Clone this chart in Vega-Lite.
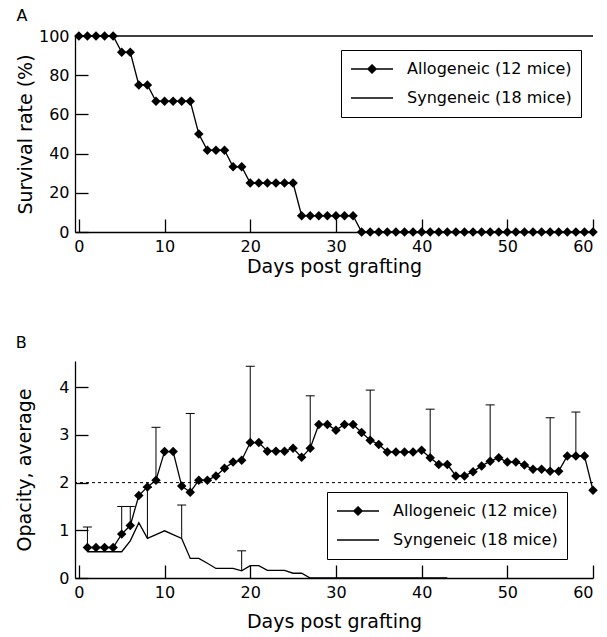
{
  "$schema": "https://vega.github.io/schema/vega-lite/v6.json",
  "padding": {"left": 15, "top": 8, "right": 5, "bottom": 5},
  "spacing": 59,
  "config": {
    "font": "DejaVu Sans",
    "view": {"stroke": null},
    "axis": {"domainColor": "black", "tickColor": "black", "labelColor": "black", "titleColor": "black", "labelFontSize": 16, "titleFontSize": 19, "titleFontWeight": "normal", "tickSize": -13, "labelPadding": 19, "grid": false, "domainWidth": 1.3, "tickWidth": 1.3, "labelFont": "DejaVu Sans", "titleFont": "DejaVu Sans"},
    "legend": {"labelLimit": 400},
    "title": {"fontSize": 16, "fontWeight": "normal", "anchor": "start", "font": "DejaVu Sans", "color": "black", "offset": 4}
  },
  "datasets": {
    "survival": [
      {"day": 0, "value": 100, "group": "Allogeneic (12 mice)"},
      {"day": 1, "value": 100, "group": "Allogeneic (12 mice)"},
      {"day": 2, "value": 100, "group": "Allogeneic (12 mice)"},
      {"day": 3, "value": 100, "group": "Allogeneic (12 mice)"},
      {"day": 4, "value": 100, "group": "Allogeneic (12 mice)"},
      {"day": 5, "value": 91.7, "group": "Allogeneic (12 mice)"},
      {"day": 6, "value": 91.7, "group": "Allogeneic (12 mice)"},
      {"day": 7, "value": 75, "group": "Allogeneic (12 mice)"},
      {"day": 8, "value": 75, "group": "Allogeneic (12 mice)"},
      {"day": 9, "value": 66.7, "group": "Allogeneic (12 mice)"},
      {"day": 10, "value": 66.7, "group": "Allogeneic (12 mice)"},
      {"day": 11, "value": 66.7, "group": "Allogeneic (12 mice)"},
      {"day": 12, "value": 66.7, "group": "Allogeneic (12 mice)"},
      {"day": 13, "value": 66.7, "group": "Allogeneic (12 mice)"},
      {"day": 14, "value": 50, "group": "Allogeneic (12 mice)"},
      {"day": 15, "value": 41.7, "group": "Allogeneic (12 mice)"},
      {"day": 16, "value": 41.7, "group": "Allogeneic (12 mice)"},
      {"day": 17, "value": 41.7, "group": "Allogeneic (12 mice)"},
      {"day": 18, "value": 33.3, "group": "Allogeneic (12 mice)"},
      {"day": 19, "value": 33.3, "group": "Allogeneic (12 mice)"},
      {"day": 20, "value": 25, "group": "Allogeneic (12 mice)"},
      {"day": 21, "value": 25, "group": "Allogeneic (12 mice)"},
      {"day": 22, "value": 25, "group": "Allogeneic (12 mice)"},
      {"day": 23, "value": 25, "group": "Allogeneic (12 mice)"},
      {"day": 24, "value": 25, "group": "Allogeneic (12 mice)"},
      {"day": 25, "value": 25, "group": "Allogeneic (12 mice)"},
      {"day": 26, "value": 8.3, "group": "Allogeneic (12 mice)"},
      {"day": 27, "value": 8.3, "group": "Allogeneic (12 mice)"},
      {"day": 28, "value": 8.3, "group": "Allogeneic (12 mice)"},
      {"day": 29, "value": 8.3, "group": "Allogeneic (12 mice)"},
      {"day": 30, "value": 8.3, "group": "Allogeneic (12 mice)"},
      {"day": 31, "value": 8.3, "group": "Allogeneic (12 mice)"},
      {"day": 32, "value": 8.3, "group": "Allogeneic (12 mice)"},
      {"day": 33, "value": 0, "group": "Allogeneic (12 mice)"},
      {"day": 34, "value": 0, "group": "Allogeneic (12 mice)"},
      {"day": 35, "value": 0, "group": "Allogeneic (12 mice)"},
      {"day": 36, "value": 0, "group": "Allogeneic (12 mice)"},
      {"day": 37, "value": 0, "group": "Allogeneic (12 mice)"},
      {"day": 38, "value": 0, "group": "Allogeneic (12 mice)"},
      {"day": 39, "value": 0, "group": "Allogeneic (12 mice)"},
      {"day": 40, "value": 0, "group": "Allogeneic (12 mice)"},
      {"day": 41, "value": 0, "group": "Allogeneic (12 mice)"},
      {"day": 42, "value": 0, "group": "Allogeneic (12 mice)"},
      {"day": 43, "value": 0, "group": "Allogeneic (12 mice)"},
      {"day": 44, "value": 0, "group": "Allogeneic (12 mice)"},
      {"day": 45, "value": 0, "group": "Allogeneic (12 mice)"},
      {"day": 46, "value": 0, "group": "Allogeneic (12 mice)"},
      {"day": 47, "value": 0, "group": "Allogeneic (12 mice)"},
      {"day": 48, "value": 0, "group": "Allogeneic (12 mice)"},
      {"day": 49, "value": 0, "group": "Allogeneic (12 mice)"},
      {"day": 50, "value": 0, "group": "Allogeneic (12 mice)"},
      {"day": 51, "value": 0, "group": "Allogeneic (12 mice)"},
      {"day": 52, "value": 0, "group": "Allogeneic (12 mice)"},
      {"day": 53, "value": 0, "group": "Allogeneic (12 mice)"},
      {"day": 54, "value": 0, "group": "Allogeneic (12 mice)"},
      {"day": 55, "value": 0, "group": "Allogeneic (12 mice)"},
      {"day": 56, "value": 0, "group": "Allogeneic (12 mice)"},
      {"day": 57, "value": 0, "group": "Allogeneic (12 mice)"},
      {"day": 58, "value": 0, "group": "Allogeneic (12 mice)"},
      {"day": 59, "value": 0, "group": "Allogeneic (12 mice)"},
      {"day": 60, "value": 0, "group": "Allogeneic (12 mice)"},
      {"day": 0, "value": 100, "group": "Syngeneic (18 mice)"},
      {"day": 60, "value": 100, "group": "Syngeneic (18 mice)"}
    ],
    "opacity": [
      {"day": 1, "value": 0.64, "group": "Allogeneic (12 mice)"},
      {"day": 2, "value": 0.64, "group": "Allogeneic (12 mice)"},
      {"day": 3, "value": 0.64, "group": "Allogeneic (12 mice)"},
      {"day": 4, "value": 0.64, "group": "Allogeneic (12 mice)"},
      {"day": 5, "value": 0.92, "group": "Allogeneic (12 mice)"},
      {"day": 6, "value": 1.10, "group": "Allogeneic (12 mice)"},
      {"day": 7, "value": 1.73, "group": "Allogeneic (12 mice)"},
      {"day": 8, "value": 1.91, "group": "Allogeneic (12 mice)"},
      {"day": 9, "value": 2.05, "group": "Allogeneic (12 mice)"},
      {"day": 10, "value": 2.65, "group": "Allogeneic (12 mice)"},
      {"day": 11, "value": 2.65, "group": "Allogeneic (12 mice)"},
      {"day": 12, "value": 1.93, "group": "Allogeneic (12 mice)"},
      {"day": 13, "value": 1.80, "group": "Allogeneic (12 mice)"},
      {"day": 14, "value": 2.05, "group": "Allogeneic (12 mice)"},
      {"day": 15, "value": 2.05, "group": "Allogeneic (12 mice)"},
      {"day": 16, "value": 2.14, "group": "Allogeneic (12 mice)"},
      {"day": 17, "value": 2.30, "group": "Allogeneic (12 mice)"},
      {"day": 18, "value": 2.43, "group": "Allogeneic (12 mice)"},
      {"day": 19, "value": 2.47, "group": "Allogeneic (12 mice)"},
      {"day": 20, "value": 2.84, "group": "Allogeneic (12 mice)"},
      {"day": 21, "value": 2.84, "group": "Allogeneic (12 mice)"},
      {"day": 22, "value": 2.66, "group": "Allogeneic (12 mice)"},
      {"day": 23, "value": 2.66, "group": "Allogeneic (12 mice)"},
      {"day": 24, "value": 2.66, "group": "Allogeneic (12 mice)"},
      {"day": 25, "value": 2.72, "group": "Allogeneic (12 mice)"},
      {"day": 26, "value": 2.53, "group": "Allogeneic (12 mice)"},
      {"day": 27, "value": 2.72, "group": "Allogeneic (12 mice)"},
      {"day": 28, "value": 3.22, "group": "Allogeneic (12 mice)"},
      {"day": 29, "value": 3.22, "group": "Allogeneic (12 mice)"},
      {"day": 30, "value": 3.10, "group": "Allogeneic (12 mice)"},
      {"day": 31, "value": 3.22, "group": "Allogeneic (12 mice)"},
      {"day": 32, "value": 3.22, "group": "Allogeneic (12 mice)"},
      {"day": 33, "value": 3.05, "group": "Allogeneic (12 mice)"},
      {"day": 34, "value": 2.89, "group": "Allogeneic (12 mice)"},
      {"day": 35, "value": 2.80, "group": "Allogeneic (12 mice)"},
      {"day": 36, "value": 2.64, "group": "Allogeneic (12 mice)"},
      {"day": 37, "value": 2.64, "group": "Allogeneic (12 mice)"},
      {"day": 38, "value": 2.64, "group": "Allogeneic (12 mice)"},
      {"day": 39, "value": 2.64, "group": "Allogeneic (12 mice)"},
      {"day": 40, "value": 2.68, "group": "Allogeneic (12 mice)"},
      {"day": 41, "value": 2.52, "group": "Allogeneic (12 mice)"},
      {"day": 42, "value": 2.38, "group": "Allogeneic (12 mice)"},
      {"day": 43, "value": 2.38, "group": "Allogeneic (12 mice)"},
      {"day": 44, "value": 2.14, "group": "Allogeneic (12 mice)"},
      {"day": 45, "value": 2.14, "group": "Allogeneic (12 mice)"},
      {"day": 46, "value": 2.23, "group": "Allogeneic (12 mice)"},
      {"day": 47, "value": 2.35, "group": "Allogeneic (12 mice)"},
      {"day": 48, "value": 2.45, "group": "Allogeneic (12 mice)"},
      {"day": 49, "value": 2.52, "group": "Allogeneic (12 mice)"},
      {"day": 50, "value": 2.43, "group": "Allogeneic (12 mice)"},
      {"day": 51, "value": 2.43, "group": "Allogeneic (12 mice)"},
      {"day": 52, "value": 2.37, "group": "Allogeneic (12 mice)"},
      {"day": 53, "value": 2.28, "group": "Allogeneic (12 mice)"},
      {"day": 54, "value": 2.28, "group": "Allogeneic (12 mice)"},
      {"day": 55, "value": 2.24, "group": "Allogeneic (12 mice)"},
      {"day": 56, "value": 2.24, "group": "Allogeneic (12 mice)"},
      {"day": 57, "value": 2.56, "group": "Allogeneic (12 mice)"},
      {"day": 58, "value": 2.56, "group": "Allogeneic (12 mice)"},
      {"day": 59, "value": 2.56, "group": "Allogeneic (12 mice)"},
      {"day": 60, "value": 1.84, "group": "Allogeneic (12 mice)"},
      {"day": 1, "value": 0.55, "group": "Syngeneic (18 mice)"},
      {"day": 2, "value": 0.55, "group": "Syngeneic (18 mice)"},
      {"day": 3, "value": 0.55, "group": "Syngeneic (18 mice)"},
      {"day": 4, "value": 0.55, "group": "Syngeneic (18 mice)"},
      {"day": 5, "value": 0.55, "group": "Syngeneic (18 mice)"},
      {"day": 6, "value": 0.78, "group": "Syngeneic (18 mice)"},
      {"day": 7, "value": 1.16, "group": "Syngeneic (18 mice)"},
      {"day": 8, "value": 0.83, "group": "Syngeneic (18 mice)"},
      {"day": 9, "value": 0.91, "group": "Syngeneic (18 mice)"},
      {"day": 10, "value": 0.99, "group": "Syngeneic (18 mice)"},
      {"day": 11, "value": 0.91, "group": "Syngeneic (18 mice)"},
      {"day": 12, "value": 0.83, "group": "Syngeneic (18 mice)"},
      {"day": 13, "value": 0.41, "group": "Syngeneic (18 mice)"},
      {"day": 14, "value": 0.41, "group": "Syngeneic (18 mice)"},
      {"day": 15, "value": 0.31, "group": "Syngeneic (18 mice)"},
      {"day": 16, "value": 0.2, "group": "Syngeneic (18 mice)"},
      {"day": 17, "value": 0.2, "group": "Syngeneic (18 mice)"},
      {"day": 18, "value": 0.2, "group": "Syngeneic (18 mice)"},
      {"day": 19, "value": 0.15, "group": "Syngeneic (18 mice)"},
      {"day": 20, "value": 0.26, "group": "Syngeneic (18 mice)"},
      {"day": 21, "value": 0.26, "group": "Syngeneic (18 mice)"},
      {"day": 22, "value": 0.16, "group": "Syngeneic (18 mice)"},
      {"day": 23, "value": 0.16, "group": "Syngeneic (18 mice)"},
      {"day": 24, "value": 0.16, "group": "Syngeneic (18 mice)"},
      {"day": 25, "value": 0.1, "group": "Syngeneic (18 mice)"},
      {"day": 26, "value": 0.1, "group": "Syngeneic (18 mice)"},
      {"day": 27, "value": 0, "group": "Syngeneic (18 mice)"},
      {"day": 28, "value": 0, "group": "Syngeneic (18 mice)"},
      {"day": 29, "value": 0, "group": "Syngeneic (18 mice)"},
      {"day": 30, "value": 0, "group": "Syngeneic (18 mice)"},
      {"day": 31, "value": 0, "group": "Syngeneic (18 mice)"},
      {"day": 32, "value": 0, "group": "Syngeneic (18 mice)"},
      {"day": 33, "value": 0, "group": "Syngeneic (18 mice)"},
      {"day": 34, "value": 0, "group": "Syngeneic (18 mice)"},
      {"day": 35, "value": 0, "group": "Syngeneic (18 mice)"},
      {"day": 36, "value": 0, "group": "Syngeneic (18 mice)"},
      {"day": 37, "value": 0, "group": "Syngeneic (18 mice)"},
      {"day": 38, "value": 0, "group": "Syngeneic (18 mice)"},
      {"day": 39, "value": 0, "group": "Syngeneic (18 mice)"},
      {"day": 40, "value": 0, "group": "Syngeneic (18 mice)"},
      {"day": 41, "value": 0, "group": "Syngeneic (18 mice)"},
      {"day": 42, "value": 0, "group": "Syngeneic (18 mice)"},
      {"day": 43, "value": 0, "group": "Syngeneic (18 mice)"}
    ],
    "errors": [
      {"day": 1, "value": 0.64, "upper": 1.07, "group": "Allogeneic (12 mice)"},
      {"day": 5, "value": 0.92, "upper": 1.5, "group": "Allogeneic (12 mice)"},
      {"day": 6, "value": 1.10, "upper": 1.5, "group": "Allogeneic (12 mice)"},
      {"day": 9, "value": 2.05, "upper": 3.16, "group": "Allogeneic (12 mice)"},
      {"day": 13, "value": 1.80, "upper": 3.45, "group": "Allogeneic (12 mice)"},
      {"day": 20, "value": 2.84, "upper": 4.44, "group": "Allogeneic (12 mice)"},
      {"day": 27, "value": 2.72, "upper": 3.82, "group": "Allogeneic (12 mice)"},
      {"day": 34, "value": 2.89, "upper": 3.94, "group": "Allogeneic (12 mice)"},
      {"day": 41, "value": 2.52, "upper": 3.54, "group": "Allogeneic (12 mice)"},
      {"day": 48, "value": 2.45, "upper": 3.63, "group": "Allogeneic (12 mice)"},
      {"day": 55, "value": 2.24, "upper": 3.36, "group": "Allogeneic (12 mice)"},
      {"day": 58, "value": 2.56, "upper": 3.48, "group": "Allogeneic (12 mice)"},
      {"day": 8, "value": 0.83, "upper": 1.9, "group": "Syngeneic (18 mice)"},
      {"day": 12, "value": 0.83, "upper": 1.53, "group": "Syngeneic (18 mice)"},
      {"day": 19, "value": 0.15, "upper": 0.57, "group": "Syngeneic (18 mice)"}
    ],
    "reference": [
      {"level": 2}
    ]
  },
  "resolve": {"scale": {"color": "independent"}},
  "vconcat": [
    {
      "title": "A",
      "width": 518,
      "height": 196,
      "data": {"name": "survival"},
      "encoding": {
        "x": {"field": "day", "type": "quantitative", "scale": {"domain": [-0.45, 60], "nice": false}, "axis": {"values": [0, 10, 20, 30, 40, 50, 60], "title": "Days post grafting", "titlePadding": 3}},
        "y": {"field": "value", "type": "quantitative", "scale": {"domain": [0, 100], "nice": false}, "axis": {"values": [0, 20, 40, 60, 80, 100], "title": "Survival rate (%)", "titlePadding": 3}}
      },
      "layer": [
        {
          "mark": {"type": "line", "strokeWidth": 1.3},
          "encoding": {
            "color": {"field": "group", "type": "nominal", "scale": {"domain": ["Allogeneic (12 mice)", "Syngeneic (18 mice)"], "range": ["black", "black"]},
              "legend": {"title": null, "orient": "none", "legendX": 266, "legendY": 14, "strokeColor": "black", "fillColor": "white", "padding": 9, "labelFontSize": 16, "labelColor": "black", "labelFont": "DejaVu Sans", "symbolSize": 400, "clipHeight": 20, "rowPadding": 9, "labelOffset": 13,
                "encode": {"symbols": {"update": {"shape": {"signal": "datum.value == 'Allogeneic (12 mice)' ? 'M-1,0L1,0M0,-0.2L0.2,0L0,0.2L-0.2,0Z' : 'M-1,0L1,0'"}, "fill": {"value": "black"}, "stroke": {"value": "black"}, "strokeWidth": {"value": 1.3}, "size": {"value": 1764}}}}}}
          }
        },
        {
          "transform": [{"filter": "datum.group == 'Allogeneic (12 mice)'"}],
          "mark": {"type": "point", "shape": "diamond", "filled": true, "color": "black", "size": 90, "opacity": 1}
        }
      ]
    },
    {
      "title": {"text": "B", "offset": 10},
      "width": 518,
      "height": 217,
      "layer": [
        {
          "data": {"name": "reference"},
          "mark": {"type": "rule", "strokeDash": [3, 3], "strokeWidth": 1, "color": "black"},
          "encoding": {"y": {"field": "level", "type": "quantitative"}}
        },
        {
          "data": {"name": "errors"},
          "mark": {"type": "rule", "color": "black", "strokeWidth": 1},
          "encoding": {
            "x": {"field": "day", "type": "quantitative"},
            "y": {"field": "value", "type": "quantitative"},
            "y2": {"field": "upper"}
          }
        },
        {
          "data": {"name": "errors"},
          "mark": {"type": "tick", "orient": "horizontal", "color": "black", "size": 9, "thickness": 1, "opacity": 1},
          "encoding": {
            "x": {"field": "day", "type": "quantitative"},
            "y": {"field": "upper", "type": "quantitative"}
          }
        },
        {
          "data": {"name": "opacity"},
          "mark": {"type": "line", "strokeWidth": 1.3},
          "encoding": {
            "x": {"field": "day", "type": "quantitative", "scale": {"domain": [-0.45, 60], "nice": false}, "axis": {"values": [0, 10, 20, 30, 40, 50, 60], "title": "Days post grafting", "titlePadding": 12}},
            "y": {"field": "value", "type": "quantitative", "scale": {"domain": [0, 4.55], "nice": false}, "axis": {"values": [0, 1, 2, 3, 4], "title": "Opacity, average", "titlePadding": 24}},
            "color": {"field": "group", "type": "nominal", "scale": {"domain": ["Allogeneic (12 mice)", "Syngeneic (18 mice)"], "range": ["black", "black"]},
              "legend": {"title": null, "orient": "none", "legendX": 252, "legendY": 131, "strokeColor": "black", "fillColor": "white", "padding": 9, "labelFontSize": 16, "labelColor": "black", "labelFont": "DejaVu Sans", "symbolSize": 400, "clipHeight": 20, "rowPadding": 9, "labelOffset": 13,
                "encode": {"symbols": {"update": {"shape": {"signal": "datum.value == 'Allogeneic (12 mice)' ? 'M-1,0L1,0M0,-0.2L0.2,0L0,0.2L-0.2,0Z' : 'M-1,0L1,0'"}, "fill": {"value": "black"}, "stroke": {"value": "black"}, "strokeWidth": {"value": 1.3}, "size": {"value": 1764}}}}}}
          }
        },
        {
          "data": {"name": "opacity"},
          "transform": [{"filter": "datum.group == 'Allogeneic (12 mice)'"}],
          "mark": {"type": "point", "shape": "diamond", "filled": true, "color": "black", "size": 90, "opacity": 1},
          "encoding": {
            "x": {"field": "day", "type": "quantitative"},
            "y": {"field": "value", "type": "quantitative"}
          }
        }
      ]
    }
  ]
}
